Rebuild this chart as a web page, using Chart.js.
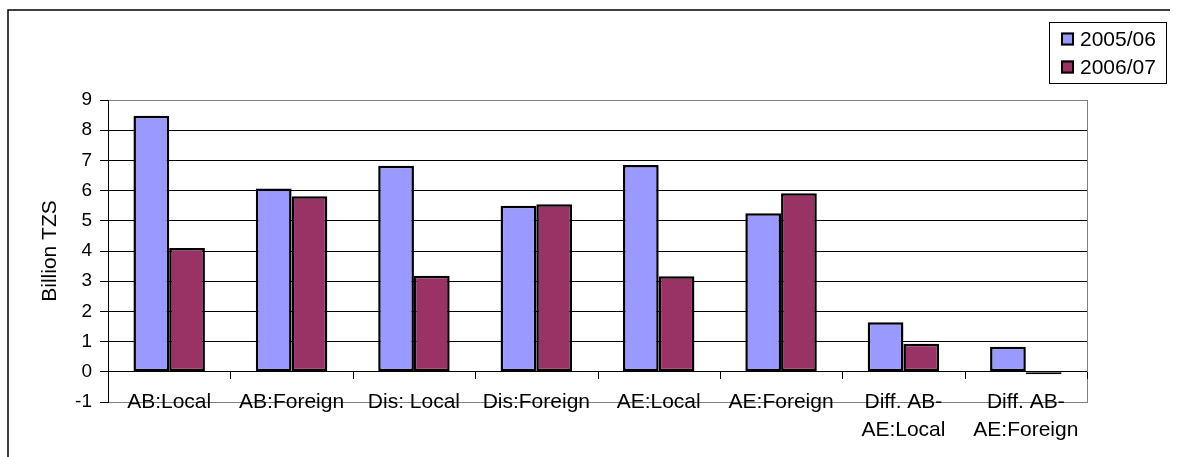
<!DOCTYPE html>
<html><head><meta charset="utf-8">
<script src="https://cdn.jsdelivr.net/npm/chart.js@4/dist/chart.umd.min.js"></script>
<style>html,body{margin:0;padding:0;background:#fff;overflow:hidden}</style>
</head><body>
<canvas id="c" width="1181" height="457" style="display:block;width:1181px;height:457px"></canvas>
<script>
const categories = ["AB:Local","AB:Foreign","Dis: Local","Dis:Foreign","AE:Local","AE:Foreign",["Diff. AB-","AE:Local"],["Diff. AB-","AE:Foreign"]];
const series1Label = "2005/06";
const series1 = [8.48, 6.07, 6.82, 5.50, 6.85, 5.25, 1.64, 0.83];
const series2Label = "2006/07";
const series2 = [4.10, 5.81, 3.18, 5.55, 3.16, 5.91, 0.93, -0.08];
const yMin = -1, yMax = 9, yStep = 1;
const yTitle = "Billion TZS";

const FONT = "'Liberation Sans', Arial, sans-serif";
const c1 = '#9999FF', c2 = '#993366';

const decor = {
  id: 'decor',
  beforeDatasetsDraw(chart) {
    const {ctx, chartArea: a, scales: {x, y}} = chart;
    ctx.save();
    ctx.strokeStyle = '#808080'; ctx.lineWidth = 1;
    const rx = Math.round(a.right) + 0.5;
    ctx.beginPath(); ctx.moveTo(rx, a.top); ctx.lineTo(rx, a.bottom + 0.5); ctx.stroke();
    const y0 = Math.round(y.getPixelForValue(0));
    ctx.strokeStyle = '#000';
    for (let i = 0; i <= categories.length; i++) {
      const px = Math.round(x.getPixelForValue(i - 0.5)) + 0.5;
      ctx.beginPath(); ctx.moveTo(px, y0); ctx.lineTo(px, y0 + 7); ctx.stroke();
    }
    ctx.restore();
  },
  afterDraw(chart) {
    const {ctx, scales: {x}} = chart;
    ctx.save();
    // category labels (positions from the x scale)
    ctx.fillStyle = '#000';
    ctx.font = '21px ' + FONT;
    ctx.textAlign = 'center'; ctx.textBaseline = 'alphabetic';
    chart.data.labels.forEach((lab, i) => {
      const lines = Array.isArray(lab) ? lab : [lab];
      const px = x.getPixelForValue(i);
      lines.forEach((t, k) => ctx.fillText(t, px, 408 + k * 28));
    });
    // outer frame (top and left)
    ctx.strokeStyle = '#000'; ctx.lineWidth = 1.5;
    ctx.beginPath(); ctx.moveTo(8, 457); ctx.lineTo(8, 10); ctx.lineTo(1170, 10); ctx.stroke();
    // legend
    ctx.lineWidth = 1;
    ctx.strokeRect(1049.5, 22.5, 117, 61);
    const ys = [39, 67];
    chart.data.datasets.forEach((ds, i) => {
      const sy = ys[i] - 6.5;
      ctx.fillStyle = ds.backgroundColor;
      ctx.fillRect(1061, sy, 13, 13);
      ctx.lineWidth = 2; ctx.strokeStyle = '#000';
      ctx.strokeRect(1062, sy + 1, 11, 11);
      ctx.fillStyle = '#000';
      ctx.font = '21px ' + FONT;
      ctx.textBaseline = 'middle'; ctx.textAlign = 'left';
      ctx.fillText(ds.label, 1080, ys[i] + 1);
    });
    ctx.restore();
  }
};

new Chart(document.getElementById('c'), {
  type: 'bar',
  data: {
    labels: categories,
    datasets: [
      {label: series1Label, data: series1, backgroundColor: c1, borderColor: '#000', borderWidth: 2.5, borderSkipped: false},
      {label: series2Label, data: series2, backgroundColor: c2, borderColor: '#000', borderWidth: 2.5, borderSkipped: false}
    ]
  },
  options: {
    responsive: false,
    devicePixelRatio: 1,
    animation: false,
    layout: {padding: {left: 0, top: 100, right: 94, bottom: 0}},
    datasets: {bar: {categoryPercentage: 0.584, barPercentage: 1}},
    plugins: {legend: {display: false}, tooltip: {enabled: false}},
    scales: {
      x: {
        grid: {display: false, drawTicks: false},
        border: {display: true, color: '#808080', width: 1},
        ticks: {display: false},
        afterFit(s) { s.height = 55; }
      },
      y: {
        min: yMin, max: yMax,
        ticks: {stepSize: yStep, padding: 8, color: '#000', font: {family: FONT, size: 19}},
        grid: {
          color: ctx => (ctx.tick && (ctx.tick.value === yMax || ctx.tick.value === yMin)) ? '#808080' : '#000',
          tickColor: '#000', tickLength: 8, lineWidth: 1
        },
        border: {display: true, color: '#000', width: 1},
        title: {display: true, text: yTitle, color: '#000', font: {family: FONT, size: 21}, padding: {top: 37.6, bottom: 0}},
        afterFit(s) { s.width = 108; }
      }
    }
  },
  plugins: [decor]
});
</script>
</body></html>
